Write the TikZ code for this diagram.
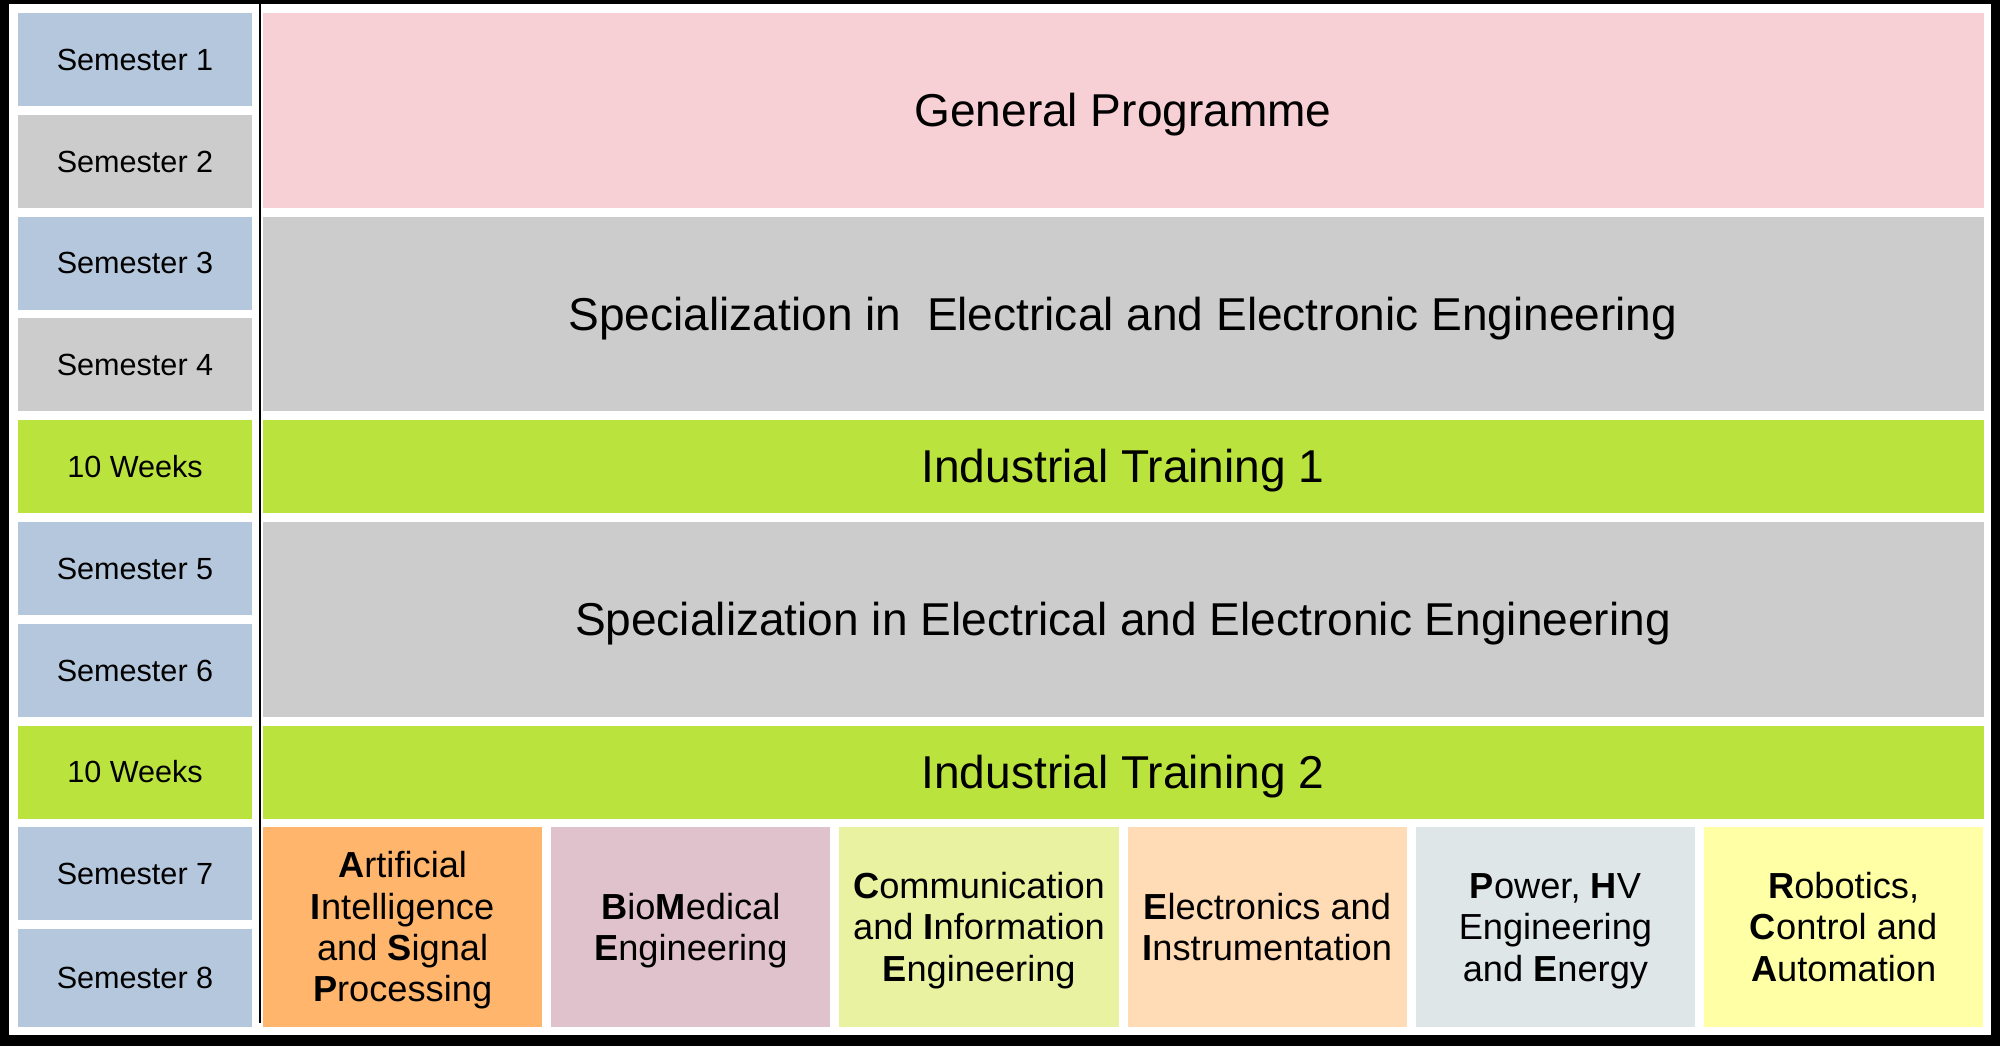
\documentclass[tikz,border=0pt]{standalone}
\usepackage{fontspec}
\setmainfont{Liberation Sans}
\usepackage{tikz}
\usetikzlibrary{positioning}
\definecolor{semblue}{HTML}{B4C7DC}
\definecolor{semgrey}{HTML}{CCCCCC}
\definecolor{genpink}{HTML}{F7D0D5}
\definecolor{trainlime}{HTML}{BBE33D}
\definecolor{aiorange}{HTML}{FFB66C}
\definecolor{biomauve}{HTML}{E0C2CD}
\definecolor{comlime}{HTML}{E8F2A1}
\definecolor{elpeach}{HTML}{FFDBB6}
\definecolor{powgrey}{HTML}{DEE6E7}
\definecolor{robyellow}{HTML}{FFFFA6}
\newcommand*{\topstrut}{\rule{0pt}{9.3pt}}
\tikzset{
  semester/.style={inner sep=0pt,minimum width=2.34cm,minimum height=0.93cm,
    text height=7.9pt,text depth=1.8pt,font=\fontsize{8.7}{10}\selectfont},
  stream/.style={inner sep=0pt,minimum width=17.2cm,minimum height=1.948cm,
    text height=11.9pt,text depth=2.8pt,font=\fontsize{13.1}{15}\selectfont},
  option/.style={inner sep=0pt,minimum width=2.792cm,minimum height=1.996cm,
    align=center,font=\fontsize{10.3}{11.75}\selectfont,
    execute at end node=\rule[-2.2pt]{0pt}{2.2pt}}
}

\begin{document}
\begin{tikzpicture}[x=0.01cm,y=-0.01cm]
% Frame
\fill[black] (0,0) rectangle (2000,1046);
\fill[white] (9,4) rectangle (1991,1035);

% Left column: semesters and training weeks
\node[semester,fill=semblue]   (S1) at (135,59.5)  {Semester 1};
\node[semester,fill=semgrey]   (S2) at (135,161.3) {Semester 2};
\node[semester,fill=semblue]   (S3) at (135,263.1) {Semester 3};
\node[semester,fill=semgrey]   (S4) at (135,364.9) {Semester 4};
\node[semester,fill=trainlime] (W1) at (135,466.7) {10 Weeks};
\node[semester,fill=semblue]   (S5) at (135,568.5) {Semester 5};
\node[semester,fill=semblue]   (S6) at (135,670.3) {Semester 6};
\node[semester,fill=trainlime] (W2) at (135,772.1) {10 Weeks};
\node[semester,fill=semblue]   (S7) at (135,873.9) {Semester 7};
\node[semester,fill=semblue,minimum height=0.978cm] (S8) at (135,978.1) {Semester 8};

% Separator line
\coordinate (T) at (260,4);
\coordinate (U) at (260,1023);
\draw[line width=0.85pt] (T) -- (U);

% Right column: programme blocks
\node[stream,fill=genpink] (GP)  at (1123,110.4) {General Programme};
\node[stream,fill=semgrey] (SP1) at (1123,314)
  {Specialization in\ \ Electrical and Electronic Engineering};
\node[stream,fill=trainlime,minimum height=0.93cm] (IT1) at (1123,466.7)
  {Industrial Training 1};
\node[stream,fill=semgrey] (SP2) at (1123,619.4)
  {Specialization in Electrical and Electronic Engineering};
\node[stream,fill=trainlime,minimum height=0.93cm] (IT2) at (1123,772.1)
  {Industrial Training 2};

% Bottom row: specialisation options
\node[option,fill=aiorange]  (AI) at (402.6,927.2)
  {\topstrut\textbf{A}rtificial\\\textbf{I}ntelligence\\and \textbf{S}ignal\\\textbf{P}rocessing};
\node[option,fill=biomauve]  (BM) at (690.8,927.2)
  {\topstrut\textbf{B}io\textbf{M}edical\\\textbf{E}ngineering};
\node[option,fill=comlime]   (CI) at (979,927.2)
  {\topstrut\textbf{C}ommunication\\and \textbf{I}nformation\\\textbf{E}ngineering};
\node[option,fill=elpeach]   (EI) at (1267.2,927.2)
  {\topstrut\textbf{E}lectronics and\\\textbf{I}nstrumentation};
\node[option,fill=powgrey]   (PH) at (1555.4,927.2)
  {\topstrut\textbf{P}ower, \textbf{H}V\\Engineering\\and \textbf{E}nergy};
\node[option,fill=robyellow] (RC) at (1843.6,927.2)
  {\topstrut\textbf{R}obotics,\\\textbf{C}ontrol and\\\textbf{A}utomation};
\end{tikzpicture}
\end{document}
